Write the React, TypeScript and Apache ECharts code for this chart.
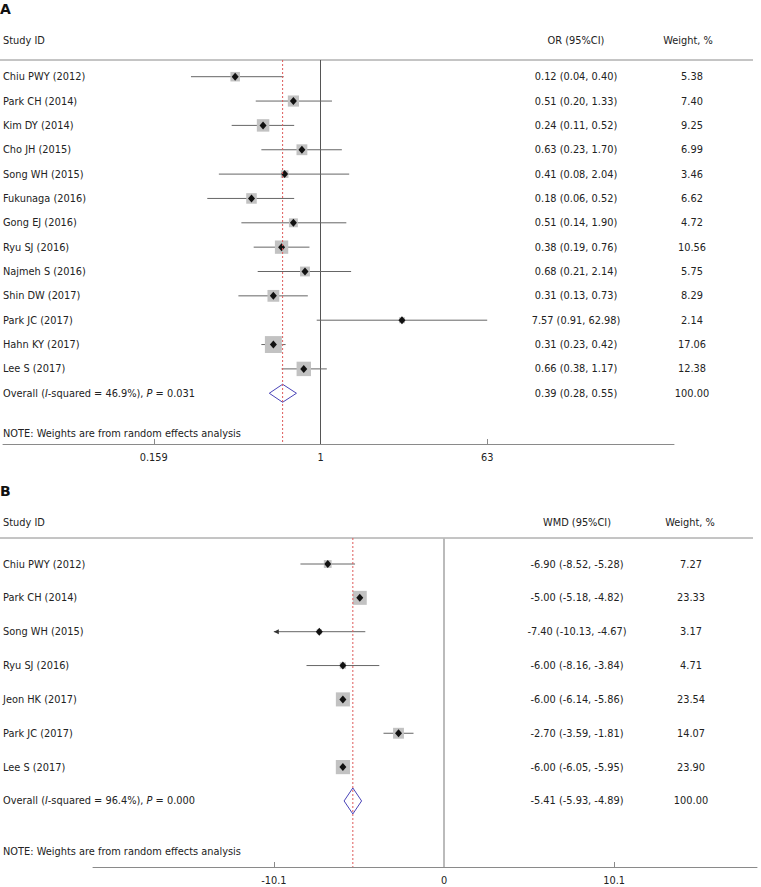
import React, { useEffect, useRef } from "react";
import * as echarts from "echarts";

// ---------- Panel A data (OR) ----------
const A_STUDIES = ["Chiu PWY (2012)", "Park CH (2014)", "Kim DY (2014)", "Cho JH (2015)", "Song WH (2015)", "Fukunaga (2016)", "Gong EJ (2016)", "Ryu SJ (2016)", "Najmeh S (2016)", "Shin DW (2017)", "Park JC (2017)", "Hahn KY (2017)", "Lee S (2017)"];
const A_EST = [0.12, 0.51, 0.24, 0.63, 0.41, 0.18, 0.51, 0.38, 0.68, 0.31, 7.57, 0.31, 0.66];
const A_LO = [0.04, 0.20, 0.11, 0.23, 0.08, 0.06, 0.14, 0.19, 0.21, 0.13, 0.91, 0.23, 0.38];
const A_HI = [0.40, 1.33, 0.52, 1.70, 2.04, 0.52, 1.90, 0.76, 2.14, 0.73, 62.98, 0.42, 1.17];
const A_WEIGHT = [5.38, 7.40, 9.25, 6.99, 3.46, 6.62, 4.72, 10.56, 5.75, 8.29, 2.14, 17.06, 12.38];
const A_OVERALL = [0.39, 0.28, 0.55];
const A_I2 = "46.9%";
const A_P = "0.031";
const A_TICK_VALUES = [1 / 63, 1, 63];
const A_TICK_LABELS = ["0.159", "1", "63"];

// ---------- Panel B data (WMD) ----------
const B_STUDIES = ["Chiu PWY (2012)", "Park CH (2014)", "Song WH (2015)", "Ryu SJ (2016)", "Jeon HK (2017)", "Park JC (2017)", "Lee S (2017)"];
const B_EST = [-6.90, -5.00, -7.40, -6.00, -6.00, -2.70, -6.00];
const B_LO = [-8.52, -5.18, -10.13, -8.16, -6.14, -3.59, -6.05];
const B_HI = [-5.28, -4.82, -4.67, -3.84, -5.86, -1.81, -5.95];
const B_WEIGHT = [7.27, 23.33, 3.17, 4.71, 23.54, 14.07, 23.90];
const B_OVERALL = [-5.41, -5.93, -4.89];
const B_I2 = "96.4%";
const B_P = "0.000";
const B_TICK_VALUES = [-10.1, 0, 10.1];
const B_TICK_LABELS = ["-10.1", "0", "10.1"];

const NOTE = "NOTE: Weights are from random effects analysis";
const FONT = "DejaVu Sans";
const FS = 9.8;
const TXT = "#222";
const W = 761;
const H = 887;

type Panel = {
  letter: string; letterY: number; headerY: number; effectHeader: string;
  studies: string[]; est: number[]; lo: number[]; hi: number[]; weight: number[];
  overall: number[]; i2: string; p: string; tickValues: number[]; tickLabels: string[];
  tx: (v: number) => number;
  top: number; bottom: number; left: number; right: number; rowTop: number; rowH: number; noteY: number;
  zeroX: number; pxPerUnit: number; effX: number; wX: number; wHeadX: number;
  squareK: number; diamondH: number; nullColor: string; nullWidth: number;
};

const panels: Panel[] = [
  {
    letter: "A", letterY: 10, headerY: 40, effectHeader: "OR (95%CI)",
    studies: A_STUDIES, est: A_EST, lo: A_LO, hi: A_HI, weight: A_WEIGHT,
    overall: A_OVERALL, i2: A_I2, p: A_P, tickValues: A_TICK_VALUES, tickLabels: A_TICK_LABELS,
    tx: Math.log,
    top: 60, bottom: 444, left: 3, right: 674, rowTop: 76.7, rowH: 24.35, noteY: 433,
    zeroX: 320.5, pxPerUnit: 40.24, effX: 576, wX: 692, wHeadX: 688,
    squareK: 4.1, diamondH: 9, nullColor: "#555", nullWidth: 1,
  },
  {
    letter: "B", letterY: 492, headerY: 522, effectHeader: "WMD (95%CI)",
    studies: B_STUDIES, est: B_EST, lo: B_LO, hi: B_HI, weight: B_WEIGHT,
    overall: B_OVERALL, i2: B_I2, p: B_P, tickValues: B_TICK_VALUES, tickLabels: B_TICK_LABELS,
    tx: (v: number) => v,
    top: 538, bottom: 867, left: 93, right: 757, rowTop: 564, rowH: 33.85, noteY: 851,
    zeroX: 444, pxPerUnit: 16.85, effX: 577, wX: 691, wHeadX: 690,
    squareK: 2.9, diamondH: 13, nullColor: "#bbb", nullWidth: 2,
  },
];

function buildOption() {
  const grid: any[] = [];
  const xAxis: any[] = [];
  const yAxis: any[] = [];
  const series: any[] = [];
  const graphic: any[] = [];

  panels.forEach((pn, gi) => {
    const n = pn.studies.length;
    const yMin = (pn.top - pn.rowTop) / pn.rowH;
    const yMax = (pn.bottom - pn.rowTop) / pn.rowH;
    const noteRow = (pn.noteY - pn.rowTop) / pn.rowH;
    const xMin = (pn.left - pn.zeroX) / pn.pxPerUnit;
    const xMax = (pn.right - pn.zeroX) / pn.pxPerUnit;
    const tickT = pn.tickValues.map(pn.tx);
    const clipMin = Math.min(...tickT);
    const clipMax = Math.max(...tickT);

    grid.push({ left: pn.left, width: pn.right - pn.left, top: pn.top, height: pn.bottom - pn.top, containLabel: false });

    xAxis.push({
      gridIndex: gi, type: "value", min: xMin, max: xMax, position: "bottom",
      axisLine: { show: true, onZero: false, lineStyle: { color: "#8a8a8a", width: 1 } },
      axisTick: { show: true, inside: true, length: 5, customValues: tickT, lineStyle: { color: "#8a8a8a" } },
      axisLabel: {
        customValues: tickT, margin: 8, color: TXT, fontFamily: FONT, fontSize: FS,
        formatter: (v: number) => {
          const i = tickT.findIndex((t) => Math.abs(t - v) < 1e-6);
          return i >= 0 ? pn.tickLabels[i] : "";
        },
      },
      splitLine: { show: false },
    });

    const rowVals = pn.studies.map((_, i) => i).concat([n, noteRow]);
    const overallText = `{n|Overall (}{i|I}{n|-squared = ${pn.i2}), }{i|P}{n| = ${pn.p}}`;
    const fmtEff = (e: number, l: number, h: number) => `${e.toFixed(2)} (${l.toFixed(2)}, ${h.toFixed(2)})`;
    const effTexts = pn.studies.map((_, i) => fmtEff(pn.est[i], pn.lo[i], pn.hi[i])).concat([fmtEff(pn.overall[0], pn.overall[1], pn.overall[2])]);
    const wTexts = pn.weight.map((w) => w.toFixed(2)).concat(["100.00"]);
    const rich = {
      n: { fontFamily: FONT, fontSize: FS, color: TXT },
      i: { fontFamily: FONT, fontSize: FS, color: TXT, fontStyle: "italic" },
    };
    const baseY = {
      gridIndex: gi, type: "value", inverse: true, min: yMin, max: yMax,
      axisLine: { show: false }, axisTick: { show: false }, splitLine: { show: false },
    };
    const idx = (v: number, vals: number[]) => vals.findIndex((t) => Math.abs(t - v) < 1e-6);
    yAxis.push({
      ...baseY, position: "left", offset: pn.left - 3,
      axisLabel: {
        inside: true, align: "left", margin: 0, color: TXT, fontFamily: FONT, fontSize: FS, rich,
        customValues: rowVals,
        formatter: (v: number) => {
          const i = idx(v, rowVals);
          if (i < 0) return "";
          if (i < n) return pn.studies[i];
          if (i === n) return overallText;
          return NOTE;
        },
      },
    });
    const effVals = pn.studies.map((_, i) => i).concat([n]);
    yAxis.push({
      ...baseY, position: "right", offset: pn.effX - pn.right,
      axisLabel: {
        align: "center", margin: 0, color: TXT, fontFamily: FONT, fontSize: FS, customValues: effVals,
        formatter: (v: number) => { const i = idx(v, effVals); return i >= 0 ? effTexts[i] : ""; },
      },
    });
    yAxis.push({
      ...baseY, position: "right", offset: pn.wX - pn.right,
      axisLabel: {
        align: "center", margin: 0, color: TXT, fontFamily: FONT, fontSize: FS, customValues: effVals,
        formatter: (v: number) => { const i = idx(v, effVals); return i >= 0 ? wTexts[i] : ""; },
      },
    });

    const yBase = gi * 3;
    // null line
    series.push({
      type: "line", xAxisIndex: gi, yAxisIndex: yBase, symbol: "none", silent: true, z: 1,
      lineStyle: { color: pn.nullColor, width: pn.nullWidth },
      data: [[pn.tx(pn.tickValues[1]), yMin], [pn.tx(pn.tickValues[1]), yMax]],
    });

    // studies
    const rows = pn.studies.map((_, i) => [pn.tx(pn.est[i]), i, pn.tx(pn.lo[i]), pn.tx(pn.hi[i]), pn.weight[i]]);
    series.push({
      type: "custom", xAxisIndex: gi, yAxisIndex: yBase, z: 3, silent: true,
      encode: { x: 0, y: 1 },
      data: rows,
      renderItem: (params: any, api: any) => {
        const x = api.value(0), y = api.value(1), lo = api.value(2), hi = api.value(3), w = api.value(4);
        const loC = Math.max(lo, clipMin);
        const hiC = Math.min(hi, clipMax);
        const p = api.coord([x, y]);
        const pl = api.coord([loC, y]);
        const ph = api.coord([hiC, y]);
        const s = pn.squareK * Math.sqrt(w);
        const children: any[] = [
          { type: "line", shape: { x1: pl[0], y1: pl[1], x2: ph[0], y2: ph[1] }, style: { stroke: "#666", lineWidth: 1 } },
          { type: "rect", shape: { x: p[0] - s / 2, y: p[1] - s / 2, width: s, height: s }, style: { fill: "#c2c2c2" } },
          { type: "polygon", shape: { points: [[p[0] - 3.5, p[1]], [p[0], p[1] - 4], [p[0] + 3.5, p[1]], [p[0], p[1] + 4]] }, style: { fill: "#111" } },
        ];
        if (lo < clipMin) {
          children.push({ type: "polygon", shape: { points: [[pl[0], pl[1]], [pl[0] + 5, pl[1] - 2.5], [pl[0] + 5, pl[1] + 2.5]] }, style: { fill: "#333" } });
        }
        if (hi > clipMax) {
          children.push({ type: "polygon", shape: { points: [[ph[0], ph[1]], [ph[0] - 5, ph[1] - 2.5], [ph[0] - 5, ph[1] + 2.5]] }, style: { fill: "#333" } });
        }
        return { type: "group", children };
      },
    });

    // overall diamond
    series.push({
      type: "custom", xAxisIndex: gi, yAxisIndex: yBase, z: 4, silent: true,
      encode: { x: 0, y: 1 },
      data: [[pn.tx(pn.overall[0]), n, pn.tx(pn.overall[1]), pn.tx(pn.overall[2])]],
      renderItem: (params: any, api: any) => {
        const y = api.value(1);
        const c = api.coord([api.value(0), y]);
        const l = api.coord([api.value(2), y]);
        const r = api.coord([api.value(3), y]);
        const h = pn.diamondH;
        return {
          type: "polygon",
          shape: { points: [[l[0], c[1]], [c[0], c[1] - h], [r[0], c[1]], [c[0], c[1] + h]] },
          style: { fill: "none", stroke: "#4a44b8", lineWidth: 1 },
        };
      },
    });

    // pooled estimate dashed line
    series.push({
      type: "line", xAxisIndex: gi, yAxisIndex: yBase, symbol: "none", silent: true, z: 5,
      lineStyle: { color: "#de5a5a", width: 1, type: [2, 2] },
      data: [[pn.tx(pn.overall[0]), yMin], [pn.tx(pn.overall[0]), yMax]],
    });

    // header decorations
    graphic.push(
      { type: "text", left: 0, top: pn.letterY - 8, style: { text: pn.letter, font: `bold 14px "${FONT}"`, fill: "#111" } },
      { type: "text", x: 3, y: pn.headerY, style: { text: "Study ID", fontFamily: FONT, fontSize: FS, fill: TXT, verticalAlign: "middle", align: "left" } },
      { type: "text", x: pn.effX, y: pn.headerY, style: { text: pn.effectHeader, fontFamily: FONT, fontSize: FS, fill: TXT, verticalAlign: "middle", align: "center" } },
      { type: "text", x: pn.wHeadX, y: pn.headerY, style: { text: "Weight, %", fontFamily: FONT, fontSize: FS, fill: TXT, verticalAlign: "middle", align: "center" } },
      { type: "line", shape: { x1: 0, y1: pn.top, x2: 753, y2: pn.top }, style: { stroke: "#8a8a8a", lineWidth: 1 } },
    );
  });

  return { animation: false, backgroundColor: "#fff", grid, xAxis, yAxis, series, graphic };
}

export default function App() {
  const ref = useRef<HTMLDivElement>(null);
  useEffect(() => {
    if (!ref.current) return;
    const chart = echarts.init(ref.current, undefined, { renderer: "svg" });
    chart.setOption(buildOption() as any);
    return () => chart.dispose();
  }, []);
  return <div ref={ref} style={{ position: "absolute", left: 0, top: 0, width: W, height: H, background: "#fff" }} />;
}
